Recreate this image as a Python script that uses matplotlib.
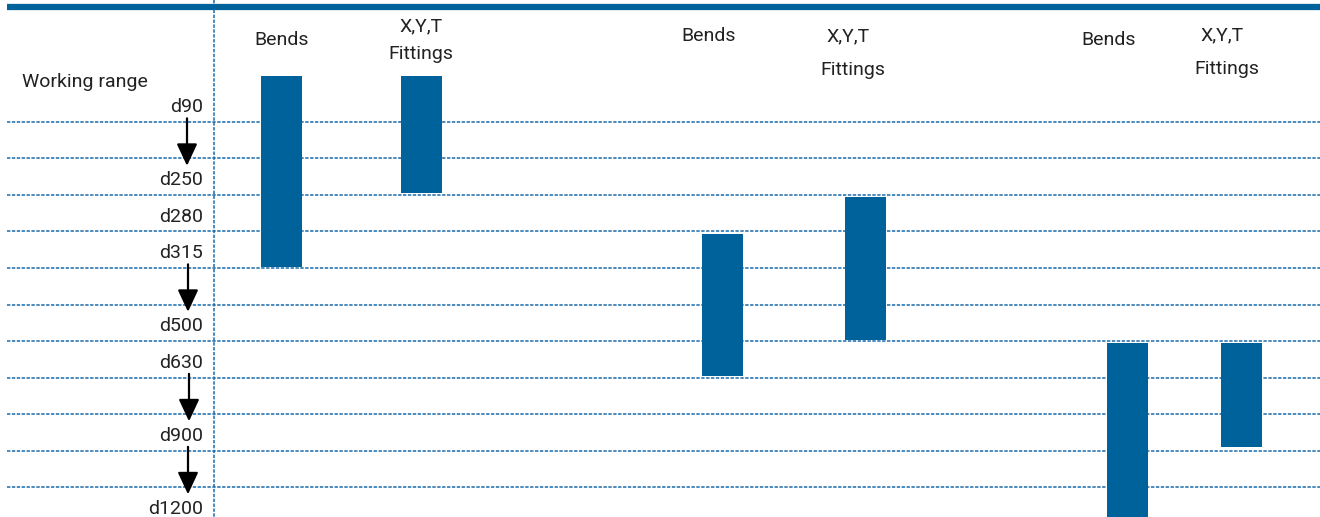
import matplotlib.pyplot as plt

plt.rcParams['font.family'] = ['Roboto', 'DejaVu Sans']

# Working-range rows (row index = dotted grid line, 0 at top)
size_labels = ['d90', 'd250', 'd280', 'd315', 'd500', 'd630', 'd900', 'd1200']
size_rows = [0, 2, 3, 4, 6, 7, 9, 11]
n_grid = 11

# arrows between sizes (from row, to row)
arrow_from = [0, 4, 7, 9]
arrow_to = [2, 6, 9, 11]

# product groups: bar spans in row units (top, bottom)
bend_top = [-1.25, 3.07, 6.05]
bend_bottom = [3.97, 6.96, 11.0]
fit_top = [-1.27, 2.05, 6.05]
fit_bottom = [1.95, 5.97, 8.9]

# layout (pixels)
W, H = 1320, 517
row0, row_h = 122, 36.5
bend_x = [281.5, 722, 1127]
fit_x = [421.5, 865, 1241]
bar_w = 41

blue = '#00629b'
grid_blue = '#1a6bab'
txt = '#222222'
fs = 14

fig = plt.figure(figsize=(W / 100, H / 100), dpi=100)
ax = fig.add_axes([0, 0, 1, 1])
ax.set_xlim(0, W)
ax.set_ylim((H - row0) / row_h, -row0 / row_h)
ax.axis('off')

# dotted grid
for i in range(n_grid):
    ax.plot([7, W], [i, i], color=grid_blue, lw=1.1, ls=(0, (2.2, 1.0)), zorder=1)
ax.plot([214, 214], [-row0 / row_h, (H - row0) / row_h], color=grid_blue,
        lw=1.1, ls=(0, (2.2, 1.0)), zorder=1)

# top band
ax.plot([7, W], [-115 / row_h, -115 / row_h], color=blue, lw=4.5,
        solid_capstyle='butt', zorder=3)

# bars
ax.bar(bend_x, [b - t for t, b in zip(bend_top, bend_bottom)], bottom=bend_top,
       width=bar_w, color=blue, zorder=2)
ax.bar(fit_x, [b - t for t, b in zip(fit_top, fit_bottom)], bottom=fit_top,
       width=bar_w, color=blue, zorder=2)

# size labels
for lab, r in zip(size_labels, size_rows):
    ax.annotate(lab, (203, r), xytext=(0, 4), textcoords='offset points',
                ha='right', va='bottom', fontsize=fs, color=txt,
                annotation_clip=False)

# arrows
for a, b, x in zip(arrow_from, arrow_to, [187, 188, 189, 188]):
    ax.annotate('', xy=(x, b - 0.8), xytext=(x, a - 0.1), annotation_clip=False,
                arrowprops=dict(arrowstyle='-|>,head_width=0.35,head_length=0.75',
                                mutation_scale=18, color='black', lw=1.6,
                                shrinkA=0, shrinkB=0))

ax.text(22, -40 / row_h, 'Working range', fontsize=fs, ha='left', va='center',
        color=txt)

# group headers
hdr = dict(fontsize=fs, ha='center', va='center', color=txt)
ax.text(282, (40 - row0) / row_h, 'Bends', **hdr)
ax.text(421, (26 - row0) / row_h, 'X,Y,T', **hdr)
ax.text(421, (54 - row0) / row_h, 'Fittings', **hdr)
ax.text(709, (36 - row0) / row_h, 'Bends', **hdr)
ax.text(848, (36 - row0) / row_h, 'X,Y,T', **hdr)
ax.text(853, (70 - row0) / row_h, 'Fittings', **hdr)
ax.text(1109, (40 - row0) / row_h, 'Bends', **hdr)
ax.text(1222, (35 - row0) / row_h, 'X,Y,T', **hdr)
ax.text(1227, (69 - row0) / row_h, 'Fittings', **hdr)

fig.savefig('out.png', dpi=100)
